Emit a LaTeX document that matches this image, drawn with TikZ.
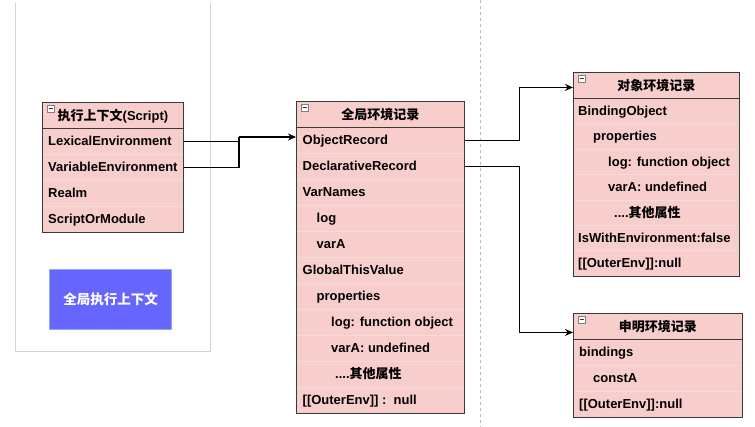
\documentclass[tikz,border=0pt]{standalone}
\usepackage{fontspec}
\setmainfont{Liberation Sans}
\newfontfamily\cjk{Noto Sans CJK SC}
\usetikzlibrary{arrows.meta}
\definecolor{pinkfill}{HTML}{F8CECC}
\definecolor{rowsep}{HTML}{F1DCDB}
\definecolor{edgecol}{HTML}{3A3A3A}
\definecolor{framecol}{HTML}{C8D8D5}
\definecolor{bluefill}{HTML}{6666FF}
\definecolor{blueedge}{HTML}{8EA9EE}
\definecolor{dashcol}{HTML}{BBBBBB}
\tikzset{
  rowbox/.style={draw=rowsep, fill=pinkfill, anchor=north west, inner sep=0pt, line width=0.6pt},
  headbox/.style={draw=edgecol, fill=pinkfill, anchor=north west, inner sep=0pt, line width=0.9pt},
  rowtext/.style={inner sep=0pt, anchor=base west, font=\fontsize{13}{15}\selectfont\bfseries},
  headtext/.style={inner sep=0pt, font=\fontsize{13}{15}\selectfont\bfseries},
  outline/.style={draw=edgecol, line width=0.9pt},
  conn/.style={draw=black, line width=1.1pt},
  tip/.style={-{Stealth[length=8pt,width=7pt]}},
}
\newcommand\tabrow[7]{%
  \node[rowbox, minimum width=#4pt, minimum height=#5pt] (#1) at (#2,#3) {};
  \node[rowtext] (#1t) at ([xshift=#6pt,yshift=-4.6pt]#1.west) {#7};}
\newcommand\tabhead[5]{%
  \node[headbox, minimum width=#4pt, minimum height=26pt] (#1) at (#2,#3) {};
  \node[headtext] (#1t) at ([yshift=-0.5pt]#1.center) {#5};
  \draw[fill=white, draw=gray, line width=0.6pt] ([xshift=5pt,yshift=-3pt]#1.north west) rectangle ++(7pt,-7pt);
  \draw[line width=0.8pt, draw=black!80] ([xshift=6.5pt,yshift=-6.5pt]#1.north west) -- ++(4pt,0pt);}
\begin{document}
\begin{tikzpicture}[x=1pt,y=-1pt]
\useasboundingbox (0,0) rectangle (755,427);
\fill[white] (0,0) rectangle (755,427);
% frame and dashed divider
\draw[framecol, line width=1pt] (15.5,3) -- (15.5,352) -- (210,352) -- (210,3);
\draw[dashcol, line width=0.8pt, dash pattern=on 3pt off 3pt] (480,0) -- (480,427);

% execution context
\tabhead{eh}{42}{102}{141}{{\cjk\bfseries 执行上下文}(Script)}
\tabrow{e1}{42}{128}{141}{26}{6}{LexicalEnvironment}
\tabrow{e2}{42}{154}{141}{26}{6}{VariableEnvironment}
\tabrow{e3}{42}{180}{141}{26}{6}{Realm}
\tabrow{e4}{42}{206}{141}{26}{6}{ScriptOrModule}
\draw[outline] (eh.north west) rectangle (e4.south east);
\draw[outline] (eh.south west) -- (eh.south east);

% global execution context box
\node[draw=blueedge, fill=bluefill, line width=1pt, minimum width=122pt, minimum height=60pt, anchor=north west, inner sep=0pt, text=white, font=\fontsize{13.5}{15}\selectfont\cjk\bfseries] (gec) at (49,269) {全局执行上下文};

% global environment record
\tabhead{gh}{296}{101}{168}{{\cjk\bfseries 全局环境记录}}
\tabrow{g1}{296}{127}{168}{26}{6.5}{ObjectRecord}
\tabrow{g2}{296}{153}{168}{26}{6.5}{DeclarativeRecord}
\tabrow{g3}{296}{179}{168}{26}{6.5}{VarNames}
\tabrow{g4}{296}{205}{168}{26}{20.5}{log}
\tabrow{g5}{296}{231}{168}{26}{20.5}{varA}
\tabrow{g6}{296}{257}{168}{26}{6.5}{GlobalThisValue}
\tabrow{g7}{296}{283}{168}{26}{20.5}{properties}
\tabrow{g8}{296}{309}{168}{26}{35}{log: function object}
\tabrow{g9}{296}{335}{168}{26}{35}{varA: undefined}
\tabrow{g10}{296}{361}{168}{26}{39}{....{\cjk\bfseries 其他属性}}
\tabrow{g11}{296}{387}{168}{26}{6.5}{[[OuterEnv]] :\ \ null}
\draw[outline] (gh.north west) rectangle (g11.south east);
\draw[outline] (gh.south west) -- (gh.south east);

% object environment record
\tabhead{oh}{573}{72}{166}{{\cjk\bfseries 对象环境记录}}
\tabrow{o1}{573}{98}{166}{25.4}{5}{BindingObject}
\tabrow{o2}{573}{123.4}{166}{25.4}{20}{properties}
\tabrow{o3}{573}{148.8}{166}{25.4}{35}{log: function object}
\tabrow{o4}{573}{174.2}{166}{25.4}{35}{varA: undefined}
\tabrow{o5}{573}{199.6}{166}{25.4}{41}{....{\cjk\bfseries 其他属性}}
\tabrow{o6}{573}{225}{166}{25.4}{5}{IsWithEnvironment:false}
\tabrow{o7}{573}{250.4}{166}{25.4}{5}{[[OuterEnv]]:null}
\draw[outline] (oh.north west) rectangle (o7.south east);
\draw[outline] (oh.south west) -- (oh.south east);

% declarative environment record
\tabhead{dh}{573}{313}{169}{{\cjk\bfseries 申明环境记录}}
\tabrow{d1}{573}{339}{169}{26}{6}{bindings}
\tabrow{d2}{573}{365}{169}{26}{20}{constA}
\tabrow{d3}{573}{391}{169}{26}{6}{[[OuterEnv]]:null}
\draw[outline] (dh.north west) rectangle (d3.south east);
\draw[outline] (dh.south west) -- (dh.south east);

% connectors
\coordinate (j) at (239,137);
\draw[conn] (e1.east) -| (j);
\draw[conn] (e2.east) -| (j);
\draw[conn, line width=2pt, tip] (j) -- (g1.west |- j);
\draw[conn, tip] (g1.east) -- ++(55pt,0pt) |- ([yshift=-2pt]oh.west);
\draw[conn, tip] (g2.east) -- ++(55pt,0pt) |- ([yshift=-6pt]dh.west);
\end{tikzpicture}
\end{document}
